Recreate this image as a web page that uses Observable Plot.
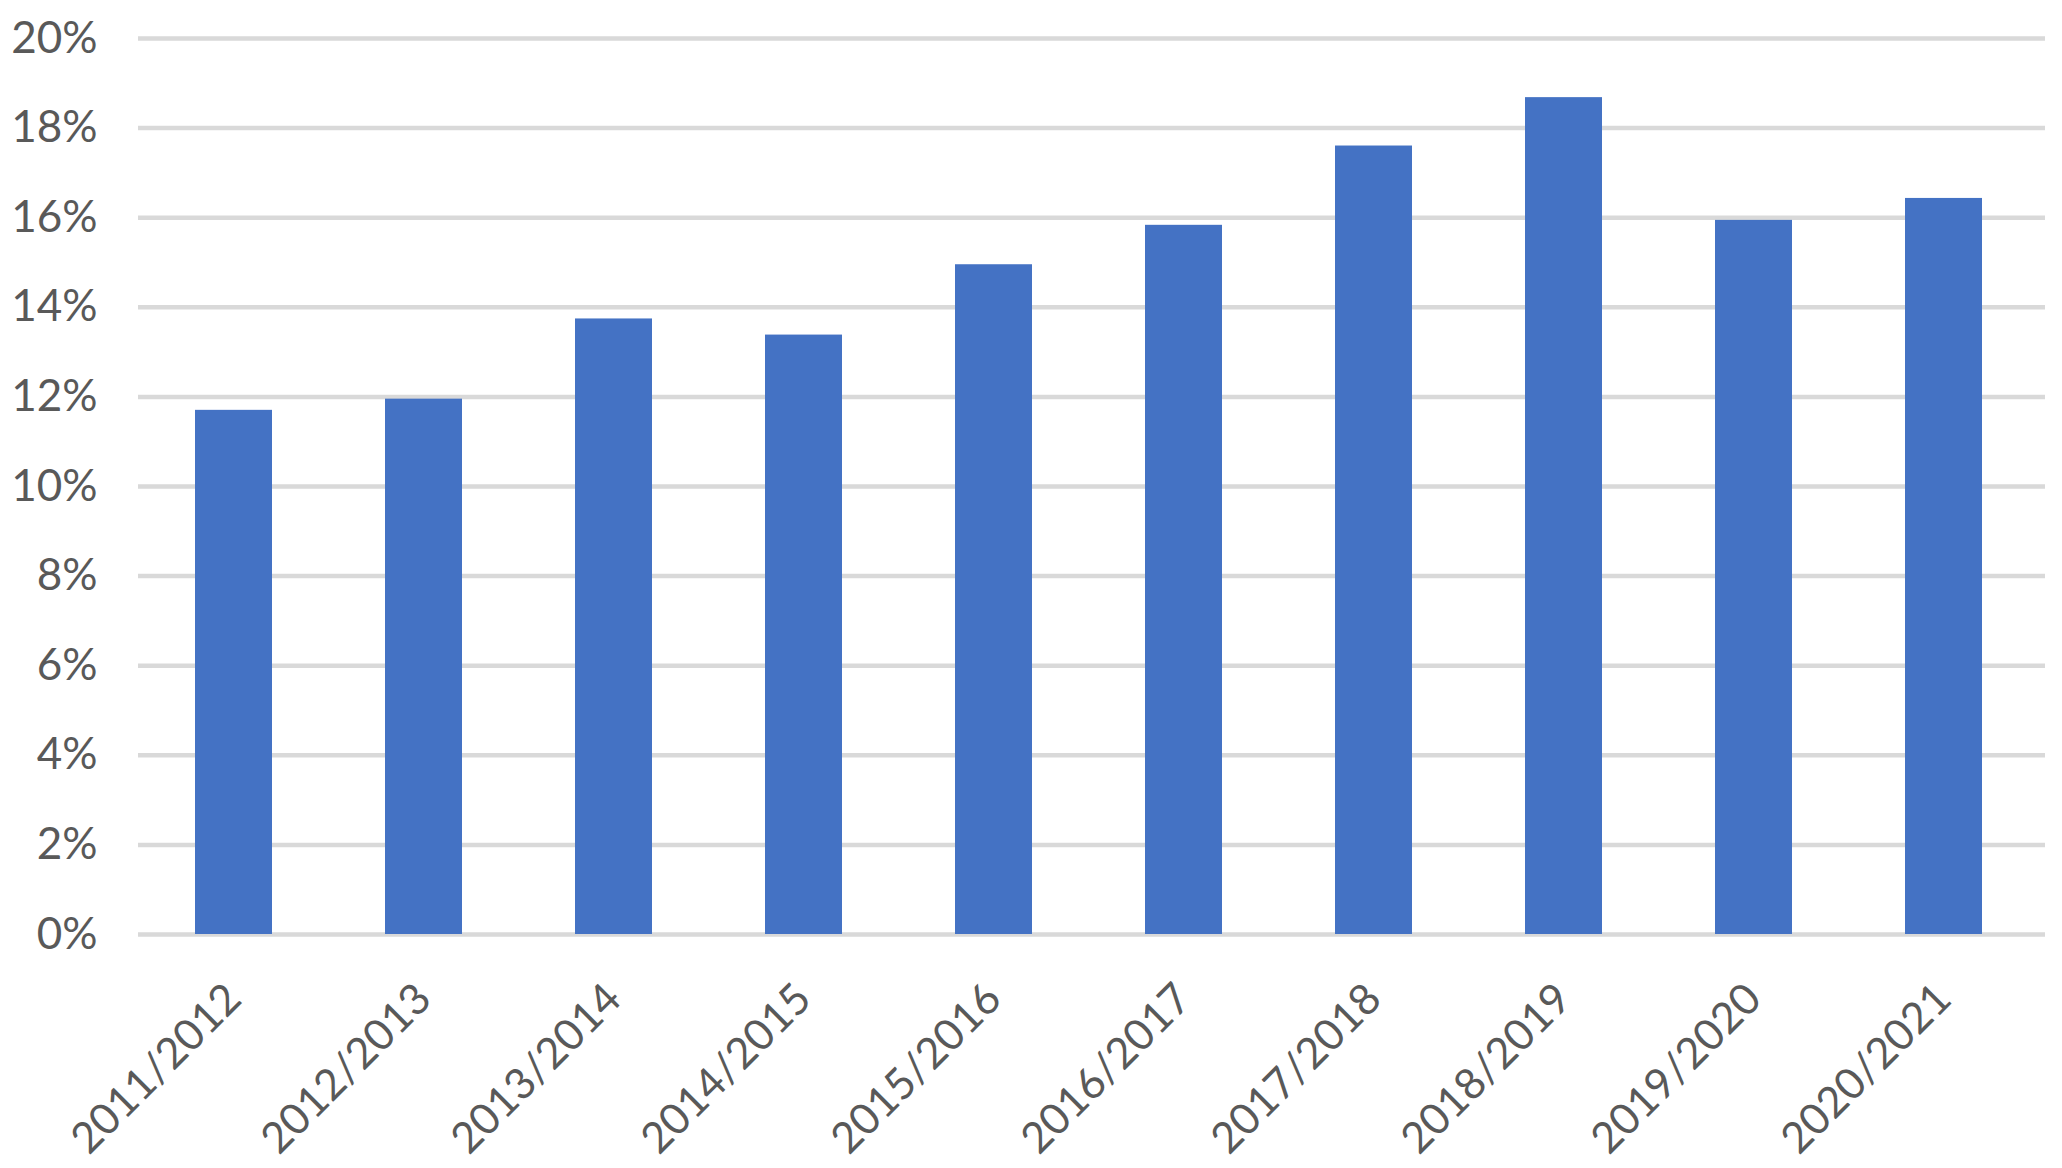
<!DOCTYPE html>
<html><head><meta charset="utf-8">
<script src="https://cdn.jsdelivr.net/npm/d3@7"></script>
<script src="https://cdn.jsdelivr.net/npm/@observablehq/plot@0.6"></script>
<style>html,body{margin:0;padding:0;background:#fff;} #chart svg{display:block;}</style>
</head><body><div id="chart"></div>
<script>
const years = ["2011/2012","2012/2013","2013/2014","2014/2015","2015/2016","2016/2017","2017/2018","2018/2019","2019/2020","2020/2021"];
const shares = [11.7, 11.95, 13.74, 13.38, 14.95, 15.83, 17.6, 18.68, 15.94, 16.43];
const yTicks = [0, 2, 4, 6, 8, 10, 12, 14, 16, 18, 20];
const data = years.map((y, i) => ({year: y, share: shares[i]}));

const chart = Plot.plot({
  width: 2062, height: 1168,
  marginLeft: 138, marginRight: 23, marginTop: 38, marginBottom: 234,
  style: {fontFamily: "Lato, 'Open Sans', sans-serif", background: "#fff", color: "#595959"},
  x: {domain: years, paddingInner: 0.595, paddingOuter: 0.2975, label: null},
  y: {domain: [0, 20], label: null},
  marks: [
    Plot.ruleY(yTicks, {stroke: "#d9d9d9", strokeWidth: 4.5, insetRight: -6}),
    Plot.barY(data, {x: "year", y: "share", fill: "#4472c4"}),
    Plot.axisY(yTicks, {tickSize: 0, tickPadding: 41, tickFormat: d => d + "%", fontSize: 44, fill: "#595959", label: null}),
    Plot.axisX({tickSize: 0, tickRotate: -45, tickPadding: 57, fontSize: 43, fill: "#595959", label: null})
  ]
});
document.getElementById("chart").appendChild(chart);
</script>
</body></html>
